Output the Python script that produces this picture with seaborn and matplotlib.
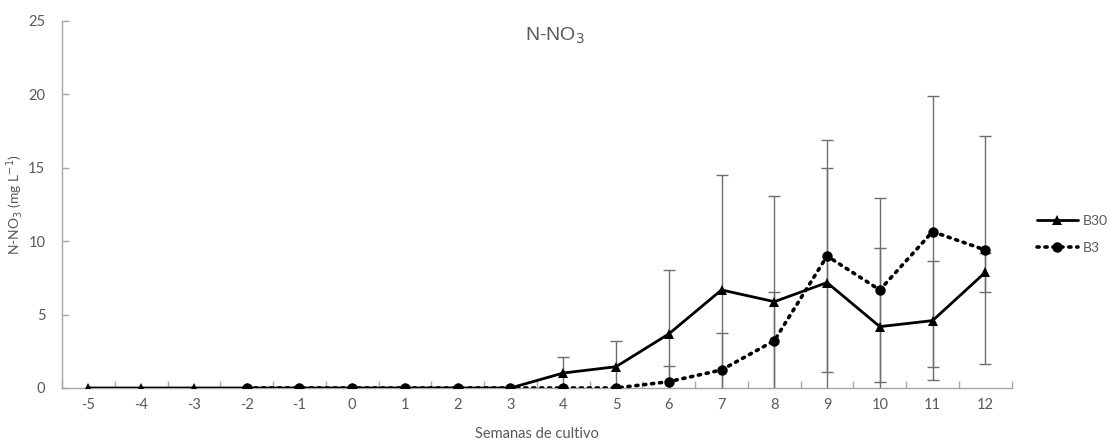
import matplotlib
matplotlib.use("Agg")
import matplotlib.pyplot as plt
import numpy as np
import pandas as pd
import seaborn as sns

# Weeks of cultivation
weeks_b30 = [-5, -4, -3, -2, -1, 0, 1, 2, 3, 4, 5, 6, 7, 8, 9, 10, 11, 12]
b30_mean = [0, 0, 0, 0, 0, 0, 0, 0, 0, 1.02, 1.45, 3.68, 6.68, 5.88, 7.18, 4.18, 4.59, 7.88]
b30_err = [0, 0, 0, 0, 0, 0, 0, 0, 0, 1.07, 1.77, 4.36, 7.83, 7.20, 7.82, 5.33, 4.04, 1.32]

weeks_b3 = [-2, -1, 0, 1, 2, 3, 4, 5, 6, 7, 8, 9, 10, 11, 12]
b3_mean = [0, 0, 0, 0, 0, 0, 0, 0, 0.43, 1.23, 3.22, 8.99, 6.68, 10.65, 9.40]
b3_err = [0, 0, 0, 0, 0, 0, 0, 0, 1.07, 2.54, 3.32, 7.87, 6.24, 9.25, 7.79]

tick_labels = [str(w) for w in range(-5, 13)]
y_ticks = [0, 5, 10, 15, 20, 25]

sns.set_theme(style="white")
plt.rcParams["font.family"] = ["Lato", "DejaVu Sans"]

text_col = "#595959"
axis_col = "#a6a6a6"
err_col = "#6e6e6e"

fig = plt.figure(figsize=(11.13, 4.41), dpi=100)
ax = fig.add_axes([0.0557, 0.1202, 0.8533, 0.8322])

df30 = pd.DataFrame({"week": weeks_b30, "value": b30_mean})
df3 = pd.DataFrame({"week": weeks_b3, "value": b3_mean})

# error bars (symmetric, clipped by the axis at zero)
for w, m, e in zip(weeks_b30, b30_mean, b30_err):
    if e > 0:
        ax.errorbar(w, m, yerr=e, fmt="none", ecolor=err_col, elinewidth=1.0,
                    capsize=4, capthick=1.0, zorder=2)
for w, m, e in zip(weeks_b3, b3_mean, b3_err):
    if e > 0:
        ax.errorbar(w, m, yerr=e, fmt="none", ecolor=err_col, elinewidth=1.0,
                    capsize=4, capthick=1.0, zorder=2)

sns.lineplot(data=df3, x="week", y="value", ax=ax, color="black",
             linestyle=(0, (0.6, 1.6)), linewidth=2.6, marker="o",
             markersize=7.5, markeredgewidth=0, dash_capstyle="round",
             label="B3", zorder=3)
sns.lineplot(data=df30, x="week", y="value", ax=ax, color="black",
             linestyle="-", linewidth=2.0, marker="^", markersize=7,
             markeredgewidth=0, label="B30", zorder=4)

ax.set_xlim(-5.5, 12.5)
ax.set_ylim(0, 25)
ax.set_xticks(range(-5, 13))
ax.set_xticklabels(tick_labels)
ax.set_xticks(np.arange(-5.5, 12.6, 1.0), minor=True)
ax.set_yticks(y_ticks)

ax.tick_params(axis="x", which="major", length=0, pad=7, labelsize=10.5,
               labelcolor=text_col)
ax.tick_params(axis="x", which="minor", length=5, direction="in",
               color=axis_col, width=1, bottom=True)
ax.tick_params(axis="y", which="major", length=5, direction="in",
               color=axis_col, width=1, pad=12, labelsize=10.5,
               labelcolor=text_col, left=True)

for side in ["top", "right"]:
    ax.spines[side].set_visible(False)
for side in ["left", "bottom"]:
    ax.spines[side].set_color(axis_col)
    ax.spines[side].set_linewidth(1.0)

ax.set_xlabel("Semanas de cultivo", fontsize=10.5, color=text_col, labelpad=11)
ax.set_ylabel(r"N-NO$_3$ (mg L$^{-1}$)", fontsize=10, color=text_col)
ax.yaxis.set_label_coords(-0.039, 0.5)
fig.text(555 / 1113, 1 - 36 / 441, r"N-NO$_3$", fontsize=14, color=text_col,
         family=["Liberation Sans", "DejaVu Sans"], ha="center", va="center")

handles, labels = ax.get_legend_handles_labels()
order = [labels.index("B30"), labels.index("B3")]
leg = ax.legend([handles[i] for i in order], [labels[i] for i in order],
                loc="center left", bbox_to_anchor=(1.027, 0.418), frameon=False,
                fontsize=10, handlelength=2.9, labelspacing=1.1,
                handletextpad=0.4, borderpad=0, borderaxespad=0)
for t in leg.get_texts():
    t.set_color(text_col)

fig.savefig("out.png", dpi=100)
